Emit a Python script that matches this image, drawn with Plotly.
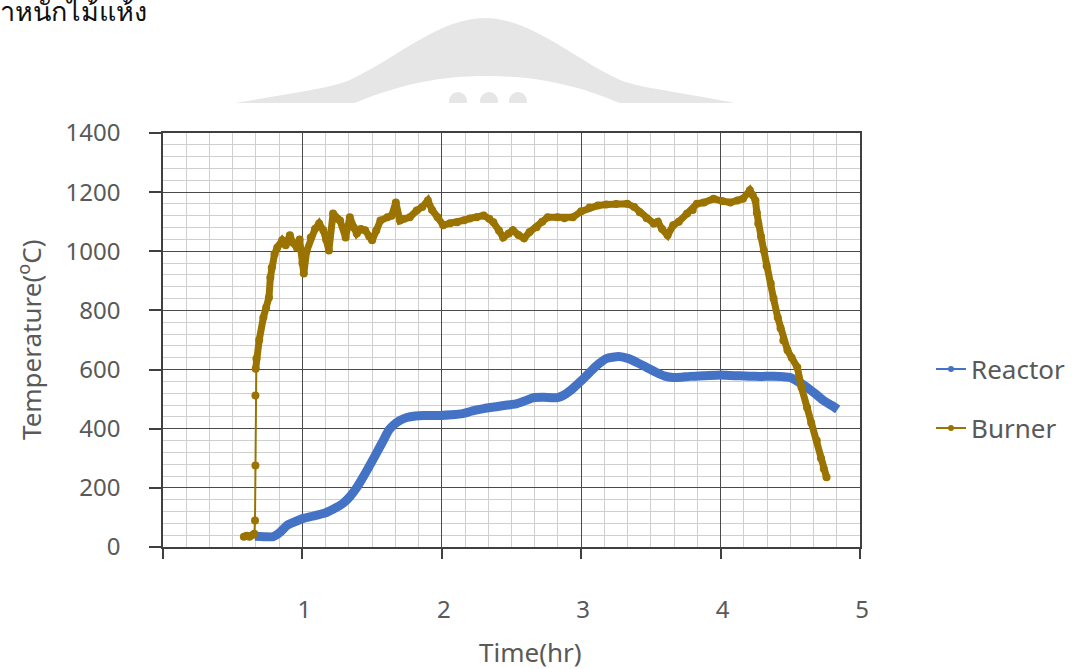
import plotly.graph_objects as go

# ---------------- data ----------------
reactor_time = [0.66, 0.72, 0.79, 0.84, 0.89, 0.94, 1.0, 1.07, 1.15, 1.22, 1.29, 1.34, 1.39, 1.44, 1.49,
                1.54, 1.58, 1.62, 1.65, 1.70, 1.75, 1.81, 1.87, 1.93, 1.99, 2.07, 2.15, 2.22, 2.30, 2.40,
                2.47, 2.54, 2.60, 2.66, 2.73, 2.83, 2.89, 2.94, 3.00, 3.06, 3.12, 3.18, 3.27, 3.34, 3.40,
                3.47, 3.54, 3.60, 3.66, 3.72, 3.78, 3.88, 4.00, 4.07, 4.14, 4.25, 4.38, 4.45, 4.50, 4.56,
                4.62, 4.68, 4.74, 4.80, 4.84]
reactor_temp = [36, 35, 35, 50, 73, 84, 96, 104, 113, 128, 147, 170, 201, 240, 282,
                325, 360, 395, 411, 428, 438, 443, 445, 445, 445, 447, 451, 460, 468, 475,
                480, 485, 495, 505, 506, 505, 518, 536, 562, 590, 617, 637, 644, 637, 624,
                607, 590, 578, 573, 574, 577, 579, 582, 580, 579, 577, 577, 576, 573, 558,
                540, 518, 495, 478, 465]

burner_time = [0.58, 0.60, 0.62, 0.64, 0.655, 0.66, 0.663, 0.663, 0.665, 0.67, 0.69, 0.72, 0.74, 0.76,
               0.77, 0.78, 0.80, 0.82, 0.855, 0.88, 0.91, 0.93, 0.96, 0.98, 1.00, 1.01, 1.03, 1.06,
               1.09, 1.12, 1.15, 1.17, 1.19, 1.22, 1.25, 1.27, 1.31, 1.34, 1.37, 1.39, 1.42, 1.45,
               1.48, 1.50, 1.53, 1.56, 1.61, 1.64, 1.67, 1.70, 1.73, 1.77, 1.82, 1.86, 1.90, 1.93,
               1.97, 2.01, 2.06, 2.11, 2.16, 2.20, 2.25, 2.30, 2.34, 2.37, 2.41, 2.44, 2.48, 2.51,
               2.55, 2.59, 2.63, 2.68, 2.72, 2.76, 2.83, 2.88, 2.94, 3.00, 3.06, 3.12, 3.18, 3.25,
               3.33, 3.38, 3.42, 3.47, 3.52, 3.55, 3.58, 3.62, 3.66, 3.70, 3.76, 3.80, 3.83, 3.88,
               3.95, 4.01, 4.07, 4.12, 4.16, 4.21, 4.23, 4.25, 4.26, 4.27, 4.29, 4.31, 4.33, 4.36,
               4.38, 4.41, 4.43, 4.45, 4.48, 4.51, 4.55, 4.58, 4.62, 4.65, 4.69, 4.72, 4.74, 4.76]
burner_temp = [35, 38, 35, 40, 45, 90, 276, 512, 603, 637, 700, 776, 810, 844,
               911, 945, 990, 1013, 1037, 1020, 1054, 1030, 1013, 1040, 960, 925, 1000, 1047,
               1075, 1094, 1071, 1040, 1003, 1128, 1110, 1104, 1047, 1115, 1080, 1060, 1075, 1071,
               1050, 1037, 1070, 1104, 1115, 1120, 1165, 1104, 1110, 1115, 1138, 1150, 1172, 1140,
               1115, 1088, 1095, 1098, 1105, 1111, 1115, 1121, 1110, 1098, 1070, 1047, 1060, 1071,
               1055, 1044, 1065, 1081, 1100, 1115, 1115, 1112, 1115, 1135, 1148, 1155, 1158, 1160,
               1161, 1150, 1132, 1112, 1094, 1100, 1075, 1054, 1088, 1100, 1128, 1140, 1161, 1165,
               1178, 1170, 1165, 1172, 1178, 1206, 1190, 1172, 1130, 1094, 1050, 1003, 950, 891,
               840, 776, 740, 698, 665, 640, 608, 540, 472, 420, 360, 300, 265, 236]

x_tickvals = [0, 1, 2, 3, 4, 5]
x_ticktext = ["", "1", "2", "3", "4", "5"]
y_tickvals = [0, 200, 400, 600, 800, 1000, 1200, 1400]
y_ticktext = ["0", "200", "400", "600", "800", "1000", "1200", "1400"]

series_names = ["Reactor", "Burner"]
REACTOR_C = "#4472C4"
BURNER_C = "#9A7300"
TXT = "#595959"
FONT = "Noto Sans"

# plot-area geometry in pixels (for decoration placement)
L, R, T, B = 163, 212, 133, 122
W, H = 1072, 669
PW, PH = W - L - R, H - T - B


def pp(x, y):
    """pixel -> paper coordinates"""
    return (x - L) / PW, (H - B - y) / PH


def path(points_cmds):
    out = []
    for cmd, pts in points_cmds:
        coords = " ".join("%.4f,%.4f" % pp(*p) for p in pts)
        out.append(cmd + " " + coords)
    return " ".join(out) + " Z"


fig = go.Figure()

# thick Reactor line
fig.add_trace(go.Scatter(x=reactor_time, y=reactor_temp, mode="lines",
                         line=dict(color=REACTOR_C, width=9, shape="spline", smoothing=0.6),
                         showlegend=False, name=series_names[0]))
# Burner: thin line with markers everywhere, thick line after start-up
start_idx = 8
fig.add_trace(go.Scatter(x=burner_time[start_idx:], y=burner_temp[start_idx:], mode="lines",
                         line=dict(color=BURNER_C, width=7),
                         showlegend=False, name=series_names[1]))
fig.add_trace(go.Scatter(x=burner_time, y=burner_temp, mode="lines+markers",
                         line=dict(color=BURNER_C, width=2),
                         marker=dict(color=BURNER_C, size=8),
                         showlegend=False, name=series_names[1]))

# legend entries
fig.add_trace(go.Scatter(x=[None], y=[None], mode="lines+markers", name=series_names[0],
                         line=dict(color=REACTOR_C, width=2), marker=dict(color=REACTOR_C, size=6),
                         legend="legend"))
fig.add_trace(go.Scatter(x=[None], y=[None], mode="lines+markers", name=series_names[1],
                         line=dict(color=BURNER_C, width=2), marker=dict(color=BURNER_C, size=6),
                         legend="legend2"))

axis_common = dict(showline=True, linecolor="#404040", linewidth=1.6, mirror=True,
                   gridcolor="#4a4a4a", gridwidth=1.4, zeroline=False,
                   ticks="outside", tickcolor="#404040", tickwidth=1.6,
                   tickfont=dict(family=FONT, size=24, color=TXT))

fig.update_xaxes(range=[0, 5], tickvals=x_tickvals, ticktext=x_ticktext, ticklen=10,
                 ticklabelstandoff=30, ticklabelshift=2,
                 minor=dict(dtick=1 / 6, tick0=0, showgrid=True, gridcolor="#cfcfcf", gridwidth=1, ticks=""),
                 **axis_common)
fig.update_yaxes(range=[0, 1400], tickvals=y_tickvals, ticktext=y_ticktext, ticklen=12,
                 ticklabelstandoff=24,
                 minor=dict(dtick=40, tick0=0, showgrid=True, gridcolor="#cfcfcf", gridwidth=1, ticks=""),
                 **axis_common)

shapes = [
    # watermark (scanned page background)
    dict(type="path", xref="paper", yref="paper", layer="below", line=dict(width=0), fillcolor="#e6e6e6",
         path=path([("M", [(235, 103)]),
                    ("C", [(300, 92), (330, 88), (350, 80)]),
                    ("C", [(400, 56), (440, 18), (485, 18)]),
                    ("C", [(530, 18), (570, 56), (620, 80)]),
                    ("C", [(640, 88), (680, 92), (735, 103)])])),
    dict(type="path", xref="paper", yref="paper", layer="below", line=dict(width=0), fillcolor="#ffffff",
         path=path([("M", [(352, 104)]),
                    ("C", [(400, 84), (440, 76), (487, 76)]),
                    ("C", [(534, 76), (575, 84), (622, 104)])])),
]
for cx in (458, 489, 518):
    x0, y0 = pp(cx - 9, 92)
    x1, y1 = pp(cx + 9, 110)
    shapes.append(dict(type="circle", xref="paper", yref="paper", layer="below", line=dict(width=0),
                       fillcolor="#e6e6e6", x0=x0, x1=x1, y0=y0, y1=y1))
x0, y0 = pp(150, 103)
x1, y1 = pp(880, 130)
shapes.append(dict(type="rect", xref="paper", yref="paper", layer="below", line=dict(width=0),
                   fillcolor="#ffffff", x0=x0, x1=x1, y0=y0, y1=y1))

ax_title_x = pp(530, 652)
ax_title_y = pp(30, 340)
thai = pp(-2, 31)
annotations = [
    dict(text="Time(hr)", xref="paper", yref="paper", x=ax_title_x[0], y=ax_title_x[1],
         showarrow=False, xanchor="center", yanchor="middle",
         font=dict(family=FONT, size=26, color=TXT)),
    dict(text="Temperature(<sup>o</sup>C)", xref="paper", yref="paper", x=ax_title_y[0], y=ax_title_y[1],
         showarrow=False, textangle=-90, xanchor="center", yanchor="middle",
         font=dict(family=FONT, size=26, color=TXT)),
    dict(text="าหนักไม้แห้ง", xref="paper", yref="paper", x=thai[0], y=thai[1],
         showarrow=False, xanchor="left", yanchor="bottom",
         font=dict(family=FONT, size=27, color="#111111")),
]

lg1 = pp(931, 369)
lg2 = pp(931, 428)
fig.update_layout(
    width=W, height=H,
    margin=dict(l=L, r=R, t=T, b=B, autoexpand=False),
    paper_bgcolor="white", plot_bgcolor="white",
    shapes=shapes, annotations=annotations,
    legend=dict(x=lg1[0], y=lg1[1], xanchor="left", yanchor="middle", bgcolor="rgba(0,0,0,0)",
                font=dict(family=FONT, size=26, color=TXT), itemwidth=30),
    legend2=dict(x=lg2[0], y=lg2[1], xanchor="left", yanchor="middle", bgcolor="rgba(0,0,0,0)",
                 font=dict(family=FONT, size=26, color=TXT), itemwidth=30),
)

fig.write_html("out.html")
